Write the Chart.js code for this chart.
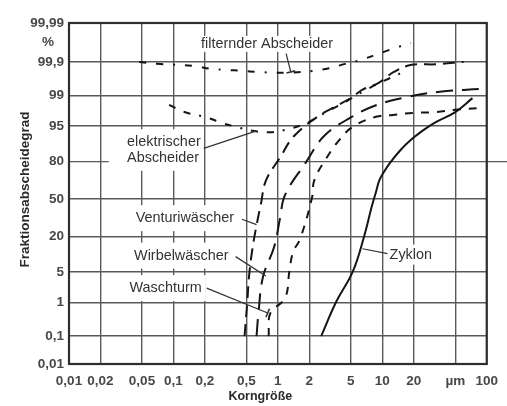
<!DOCTYPE html>
<html><head><meta charset="utf-8">
<script src="https://cdn.jsdelivr.net/npm/chart.js@4"></script>
<style>html,body{margin:0;padding:0;background:#fff}canvas{display:block}</style>
</head><body>
<canvas id="c" width="507" height="406"></canvas>
<script>
// ---- axis ticks ----
const xTicks = [0.01,0.02,0.05,0.1,0.2,0.5,1,2,5,10,20,50,100];
const xTickLabels = ['0,01','0,02','0,05','0,1','0,2','0,5','1','2','5','10','20','µm','100'];
const yTicks = [0.01,0.1,1,5,20,50,80,95,99,99.9,99.99];
const yTickLabels = ['0,01','0,1','1','5','20','50','80','95','99','99,9','99,99'];

// ---- series (x: particle size in µm, y: fractional efficiency in %) ----
const filterX = [0.047,0.07,0.156,0.23,0.32,0.45,0.65,0.94,1.33,2.18,3.1,4.4,6.3,8.7,12.3,18.7];
const filterY = [99.9,99.884,99.865,99.832,99.82,99.806,99.79,99.78,99.78,99.806,99.84,99.884,99.911,99.933,99.951,99.966];

const electricX = [0.091,0.128,0.208,0.298,0.40,0.59,0.85,1.29,1.85,2.9,4.5,6.7,10,15.9];
const electricY = [98.3,97.5,96.7,95.6,94.8,93.7,93.4,94.3,95.6,97.5,98.6,99.26,99.59,99.79];

const venturiX = [0.48,0.51,0.53,0.565,0.613,0.69,0.77,1.05,1.43,2.49,3.77,5.2,6.47,9.24,12.9,19.1,32.4,60];
const venturiY = [0.1,1.06,4.1,11.7,24.3,46.2,66.3,82.5,92.2,97.0,98.27,98.94,99.31,99.56,99.79,99.875,99.88,99.9];

const wirbelX = [0.625,0.652,0.72,0.92,1.05,1.17,1.85,2.77,5,8.7,17.8,35.5,90];
const wirbelY = [0.1,0.51,3.94,14.0,33.3,53.5,79.4,92.2,96.7,98.27,98.94,99.22,99.35];

const waschturmX = [0.816,0.85,1.17,1.29,1.40,1.63,2.13,2.23,2.9,3.85,5.2,8.7,12.6,20.5,33.1,50,86];
const waschturmY = [0.1,0.51,1.27,5.2,11.7,18.2,51.8,66.3,81.9,90.7,94.8,96.8,97.1,97.4,97.5,97.8,97.98];

const zyklonX = [2.6,3.6,5.2,6.7,7.9,8.7,9.4,10.5,11.8,14.8,18.7,24,31.6,50,73];
const zyklonY = [0.1,1,5,20,42.9,56.3,66.6,73.6,79.1,86.3,90.8,93.7,95.7,97.5,98.85];

// ---- probability (probit) transform for the y axis ----
function invNorm(p){
  const a=[-3.969683028665376e+01,2.209460984245205e+02,-2.759285104469687e+02,1.383577518672690e+02,-3.066479806614716e+01,2.506628277459239e+00];
  const b=[-5.447609879822406e+01,1.615858368580409e+02,-1.556989798598866e+02,6.680131188771972e+01,-1.328068155288572e+01];
  const c=[-7.784894002430293e-03,-3.223964580411365e-01,-2.400758277161838e+00,-2.549732539343734e+00,4.374664141464968e+00,2.938163982698783e+00];
  const d=[7.784695709041462e-03,3.224671290700398e-01,2.445134137142996e+00,3.754408661907416e+00];
  const pl=0.02425, ph=1-pl; let q,r;
  if(p<pl){q=Math.sqrt(-2*Math.log(p));return (((((c[0]*q+c[1])*q+c[2])*q+c[3])*q+c[4])*q+c[5])/((((d[0]*q+d[1])*q+d[2])*q+d[3])*q+1);}
  if(p<=ph){q=p-0.5;r=q*q;return (((((a[0]*r+a[1])*r+a[2])*r+a[3])*r+a[4])*r+a[5])*q/(((((b[0]*r+b[1])*r+b[2])*r+b[3])*r+b[4])*r+1);}
  q=Math.sqrt(-2*Math.log(1-p));return -(((((c[0]*q+c[1])*q+c[2])*q+c[3])*q+c[4])*q+c[5])/((((d[0]*q+d[1])*q+d[2])*q+d[3])*q+1);
}
const TOP_STRETCH = 1.394; // the 99,9 - 99,99 band is drawn wider in the original
const Z999 = invNorm(0.999);
function zf(p){
  const z = invNorm(p/100);
  return z > Z999 ? Z999 + (z - Z999) * TOP_STRETCH : z;
}
const pts = (xs, ys) => xs.map((x,i)=>({x:x, y:zf(ys[i])}));

const INK = '#151515';
function ds(xs, ys, dash){
  return {data: pts(xs,ys), borderColor: INK, borderWidth: 2, borderDash: dash,
          pointRadius: 0, tension: 0.4, fill: false};
}

// ---- annotations (positions in data units) ----
const labels = [
  {t:['filternder Abscheider'], x:0.184, y:99.964, px:1, py:1, ptr:[[1.2,99.937],[1.33,99.79]], bar:true},
  {t:['elektrischer','Abscheider'], x:0.036, y:89.94, lh:15.5, px:3, py:6, ptr:[[0.195,87.3],[0.613,93.7]]},
  {t:['Venturiwäscher'], x:0.0435, y:33.3, px:4, py:6, ptr:[[0.453,32.4],[0.625,28.2]]},
  {t:['Wirbelwäscher'], x:0.042, y:10.1, px:4, py:6, ptr:[[0.394,9.7],[0.767,4.13]]},
  {t:['Waschturm'], x:0.038, y:2.23, px:4, py:6, ptr:[[0.208,2.23],[0.80,0.51]], bar:true},
  {t:['Zyklon'], x:11.75, y:10.5, px:2, py:3, ptr:[[11.2,10.9],[6.47,13.1]]}
];
const gridGap80 = [0.024, 0.98];

const LABEL_FONT = '14.4px "Liberation Sans", Arial, sans-serif';
const GRID = '#5a5a5a';

const annot = {
  id: 'annot',
  beforeDatasetsDraw(chart){
    const {ctx, chartArea:a, scales:{x, y}} = chart;
    ctx.save();
    // 80 % grid line (interrupted in the original)
    const y80 = y.getPixelForValue(zf(80));
    ctx.strokeStyle = GRID; ctx.lineWidth = 1.4;
    ctx.beginPath();
    ctx.moveTo(a.left, y80); ctx.lineTo(x.getPixelForValue(gridGap80[0]), y80);
    ctx.moveTo(x.getPixelForValue(gridGap80[1]), y80); ctx.lineTo(chart.width, y80);
    ctx.stroke();
    // label backgrounds
    ctx.font = LABEL_FONT; ctx.fillStyle = '#fff';
    labels.forEach(L=>{
      const lx = x.getPixelForValue(L.x), ly = y.getPixelForValue(zf(L.y));
      const lh = L.lh || 15;
      let w = 0; L.t.forEach(s=>{w = Math.max(w, ctx.measureText(s).width);});
      const h = lh*(L.t.length-1) + 14;
      ctx.fillRect(lx - L.px, ly - 7 - L.py, w + 2*L.px, h + 2*L.py);
    });
    // frame
    ctx.strokeStyle = '#2e2e2e'; ctx.lineWidth = 2.2;
    ctx.strokeRect(a.left, a.top, a.right - a.left, a.bottom - a.top);
    ctx.restore();
  },
  afterDatasetsDraw(chart){
    const {ctx, chartArea:a, scales:{x, y}} = chart;
    ctx.save();
    ctx.font = LABEL_FONT; ctx.fillStyle = '#333'; ctx.textBaseline = 'middle'; ctx.textAlign = 'left';
    ctx.strokeStyle = '#333'; ctx.lineWidth = 1.2;
    labels.forEach(L=>{
      const lx = x.getPixelForValue(L.x), ly = y.getPixelForValue(zf(L.y));
      const lh = L.lh || 15;
      L.t.forEach((s,i)=>ctx.fillText(s, lx, ly + i*lh));
      const p1 = [x.getPixelForValue(L.ptr[0][0]), y.getPixelForValue(zf(L.ptr[0][1]))];
      const p2 = [x.getPixelForValue(L.ptr[1][0]), y.getPixelForValue(zf(L.ptr[1][1]))];
      ctx.beginPath(); ctx.moveTo(p1[0], p1[1]); ctx.lineTo(p2[0], p2[1]); ctx.stroke();
      if (L.bar){
        const dx = p2[0]-p1[0], dy = p2[1]-p1[1], len = Math.hypot(dx,dy);
        const nx = -dy/len*4.5, ny = dx/len*4.5;
        ctx.lineWidth = 1.6;
        ctx.beginPath(); ctx.moveTo(p2[0]-nx, p2[1]-ny); ctx.lineTo(p2[0]+nx, p2[1]+ny); ctx.stroke();
        ctx.lineWidth = 1.2;
      }
    });
    // axis titles and unit
    ctx.fillStyle = '#2a2a2a';
    ctx.font = 'bold 13.5px "Liberation Sans", Arial, sans-serif';
    ctx.textAlign = 'center';
    ctx.save();
    ctx.translate(a.left - 44, (a.top + a.bottom)/2 - 4);
    ctx.rotate(-Math.PI/2);
    ctx.fillText('Fraktionsabscheidegrad', 0, 0);
    ctx.restore();
    ctx.font = 'bold 12.5px "Liberation Sans", Arial, sans-serif';
    ctx.fillText('Korngröße', x.getPixelForValue(0.68), chart.height - 9);
    ctx.font = 'bold 13.5px "Liberation Sans", Arial, sans-serif';
    ctx.fillStyle = '#4a4a4a';
    const yTop = y.getPixelForValue(zf(99.99)), y999 = y.getPixelForValue(zf(99.9));
    ctx.fillText('%', a.left - 21, (yTop + y999)/2);
    ctx.restore();
  }
};

new Chart(document.getElementById('c'), {
  type: 'line',
  data: {datasets: [
    ds(filterX, filterY, [7,10,7,10,2,10]),
    ds(electricX, electricY, [7,9,7,9,2,9]),
    ds(venturiX, venturiY, [12,7]),
    ds(wirbelX, wirbelY, [17,9]),
    ds(waschturmX, waschturmY, [8,8]),
    ds(zyklonX, zyklonY, [])
  ]},
  options: {
    responsive: false, animation: false, devicePixelRatio: 1,
    layout: {padding: {top: 23, right: 14, left: 0, bottom: 0}},
    plugins: {legend: {display: false}, tooltip: {enabled: false}},
    scales: {
      x: {
        type: 'logarithmic', min: xTicks[0], max: xTicks[xTicks.length-1],
        afterBuildTicks: s => { s.ticks = xTicks.map(v => ({value: v})); },
        afterFit: s => { s.height = 42; },
        grid: {color: GRID, lineWidth: 1.4, drawTicks: false},
        border: {display: false},
        ticks: {autoSkip: false, maxRotation: 0, minRotation: 0, padding: 9, color: '#484848',
                font: {family: '"Liberation Sans", Arial, sans-serif', size: 13.5, weight: 'bold'},
                callback: (v, i) => xTickLabels[i]}
      },
      y: {
        type: 'linear', min: zf(yTicks[0]), max: zf(yTicks[yTicks.length-1]),
        afterBuildTicks: s => { s.ticks = yTicks.map(p => ({value: zf(p)})); },
        afterFit: s => { s.width = 69; },
        grid: {color: c => (yTicks[c.index] === 80 ? 'rgba(0,0,0,0)' : GRID), lineWidth: 1.4, drawTicks: false},
        border: {display: false},
        ticks: {autoSkip: false, padding: 5, color: '#484848',
                font: {family: '"Liberation Sans", Arial, sans-serif', size: 13.5, weight: 'bold'},
                callback: (v, i) => yTickLabels[i]}
      }
    }
  },
  plugins: [annot]
});
</script>
</body></html>
